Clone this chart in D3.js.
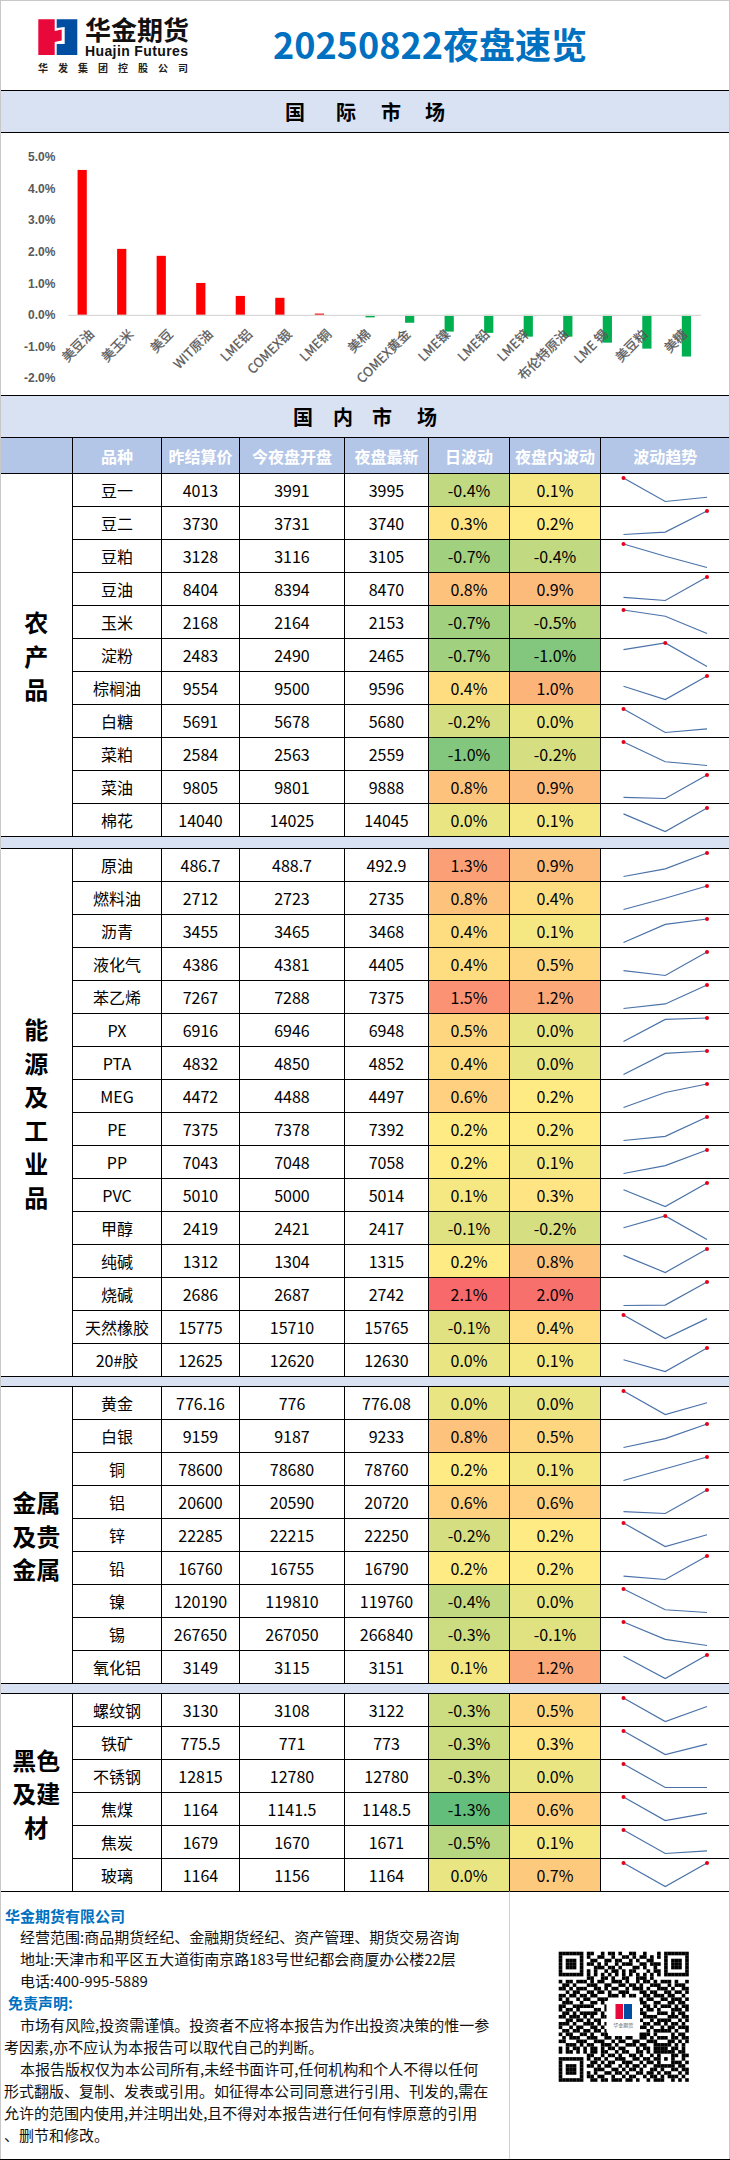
<!DOCTYPE html>
<html>
<head>
<meta charset="utf-8">
<script src="https://cdn.jsdelivr.net/npm/d3@7"></script>
<style>
html, body { margin: 0; padding: 0; background: #fff; }
svg { display: block; }
text { font-family: "Noto Sans CJK SC", "Noto Sans", sans-serif; }
</style>
</head>
<body>
<div id="chart"></div>
<script>
// international market bars
const intlNames = ['美豆油', '美玉米', '美豆', 'WIT原油', 'LME铝', 'COMEX银', 'LME铜', '美棉', 'COMEX黄金', 'LME镍', 'LME铅', 'LME锌', '布伦特原油', 'LME 锡', '美豆粕', '美糖'];
const intlChange = [4.59, 2.09, 1.87, 1.01, 0.60, 0.54, 0.04, -0.08, -0.25, -0.53, -0.57, -0.69, -0.69, -0.88, -1.07, -1.32];
const yTicks = [-2, -1, 0, 1, 2, 3, 4, 5];

// domestic market table
const groupLabels = [['农', '产', '品'], ['能', '源', '及', '工', '业', '品'], ['金属', '及贵', '金属'], ['黑色', '及建', '材']];
const groupSizes = [11, 16, 9, 6];
const names = ['豆一', '豆二', '豆粕', '豆油', '玉米', '淀粉', '棕榈油', '白糖', '菜粕', '菜油', '棉花',
    '原油', '燃料油', '沥青', '液化气', '苯乙烯', 'PX', 'PTA', 'MEG', 'PE', 'PP', 'PVC', '甲醇', '纯碱', '烧碱', '天然橡胶', '20#胶',
    '黄金', '白银', '铜', '铝', '锌', '铅', '镍', '锡', '氧化铝',
    '螺纹钢', '铁矿', '不锈钢', '焦煤', '焦炭', '玻璃'];
const settle = [4013, 3730, 3128, 8404, 2168, 2483, 9554, 5691, 2584, 9805, 14040,
    486.7, 2712, 3455, 4386, 7267, 6916, 4832, 4472, 7375, 7043, 5010, 2419, 1312, 2686, 15775, 12625,
    776.16, 9159, 78600, 20600, 22285, 16760, 120190, 267650, 3149,
    3130, 775.5, 12815, 1164, 1679, 1164];
const nightOpen = [3991, 3731, 3116, 8394, 2164, 2490, 9500, 5678, 2563, 9801, 14025,
    488.7, 2723, 3465, 4381, 7288, 6946, 4850, 4488, 7378, 7048, 5000, 2421, 1304, 2687, 15710, 12620,
    776, 9187, 78680, 20590, 22215, 16755, 119810, 267050, 3115,
    3108, 771, 12780, 1141.5, 1670, 1156];
const nightLast = [3995, 3740, 3105, 8470, 2153, 2465, 9596, 5680, 2559, 9888, 14045,
    492.9, 2735, 3468, 4405, 7375, 6948, 4852, 4497, 7392, 7058, 5014, 2417, 1315, 2742, 15765, 12630,
    776.08, 9233, 78760, 20720, 22250, 16790, 119760, 266840, 3151,
    3122, 773, 12780, 1148.5, 1671, 1164];
const dayChange = [-0.4, 0.3, -0.7, 0.8, -0.7, -0.7, 0.4, -0.2, -1.0, 0.8, 0.0,
    1.3, 0.8, 0.4, 0.4, 1.5, 0.5, 0.4, 0.6, 0.2, 0.2, 0.1, -0.1, 0.2, 2.1, -0.1, 0.0,
    0.0, 0.8, 0.2, 0.6, -0.2, 0.2, -0.4, -0.3, 0.1,
    -0.3, -0.3, -0.3, -1.3, -0.5, 0.0];
const nightChange = [0.1, 0.2, -0.4, 0.9, -0.5, -1.0, 1.0, 0.0, -0.2, 0.9, 0.1,
    0.9, 0.4, 0.1, 0.5, 1.2, 0.0, 0.0, 0.2, 0.2, 0.1, 0.3, -0.2, 0.8, 2.0, 0.4, 0.1,
    0.0, 0.5, 0.1, 0.6, 0.2, 0.2, 0.0, -0.1, 1.2,
    0.5, 0.3, 0.0, 0.6, 0.1, 0.7];
const headers = ['品种', '昨结算价', '今夜盘开盘', '夜盘最新', '日波动', '夜盘内波动', '波动趋势'];

const footerLines = [
    ['华金期货有限公司', 5, 1],
    ['经营范围:商品期货经纪、金融期货经纪、资产管理、期货交易咨询', 20, 0],
    ['地址:天津市和平区五大道街南京路183号世纪都会商厦办公楼22层', 20, 0],
    ['电话:400-995-5889', 20, 0],
    ['免责声明:', 8, 1],
    ['市场有风险,投资需谨慎。投资者不应将本报告为作出投资决策的惟一参', 20, 0],
    ['考因素,亦不应认为本报告可以取代自己的判断。', 4, 0],
    ['本报告版权仅为本公司所有,未经书面许可,任何机构和个人不得以任何', 20, 0],
    ['形式翻版、复制、发表或引用。如征得本公司同意进行引用、刊发的,需在', 4, 0],
    ['允许的范围内使用,并注明出处,且不得对本报告进行任何有悖原意的引用', 4, 0],
    ['、删节和修改。', 4, 0]
];

const qrRows = [
    '1111111011001011010011001000101111111', '1000001010011001001101011010101000001',
    '1011101001100110110010100110001011101', '1011101011010100101110011011101011101',
    '1011101000111011010001101001001011101', '1000001010100101101011000101101000001',
    '1111111010101010101010101010101111111', '0000000011001101001100111010000000000',
    '1011011101011001110100101101011101001', '0110100011100110011011010011100101110',
    '1101011100110101100101110100111010011', '0010110011011010011100011011001101101',
    '1101101101100011101011001101110110010', '1010010110011100000000010110011011101',
    '0111001001101000000000011001100110110', '1100111111000100000000001101011101011',
    '1011010000110100000000010110100011101', '0110101111101000000000011000111010110',
    '1101110101001100000000001111000111011', '0011011010110000000000010010111100101',
    '1110100111010100000000001101101011010', '1001011001101000000000011010010110111',
    '0110110110110100000000000101111101001', '1011001101001100000000011101000010110',
    '0101110011100110110110011010111011011', '1100011100111001011001100111000110101',
    '0011101011001110100111011001111101010', '1010110101101011011000101101111011010',
    '1011010101101100101100110101111110110', '0000000011001011010011010010100011011',
    '1111111010110100111001101101101010010', '1000001001101011001110010110100011101',
    '1011101011010110010101101001111110110', '1011101000111001101011010011010011011',
    '1011101010100110110100110110101100101', '1000001011011001001011001011010111010',
    '1111111001101101110110100101110010101'
];

const width = 730, height = 2160;
const svg = d3.select('#chart').append('svg').attr('width', width).attr('height', height);

const lineColor = '#000';
const bandColor = '#d9e2f3';
const headColor = '#b4c6e7';
const colEdges = [0, 72.5, 161.5, 239.5, 344.5, 428.5, 509.5, 600.5, 730];
const groupTops = [473.5, 848.5, 1386.5, 1693.5];
const rowH = 33;

const hline = (g, y, x1, x2, color) => g.append('line')
    .attr('x1', x1).attr('x2', x2).attr('y1', y).attr('y2', y)
    .attr('stroke', color || lineColor).attr('stroke-width', 1);
const vline = (g, x, y1, y2, color) => g.append('line')
    .attr('x1', x).attr('x2', x).attr('y1', y1).attr('y2', y2)
    .attr('stroke', color || lineColor).attr('stroke-width', 1);

//------------------------------------------------------------------------------
// header, logo
const head = svg.append('g');
head.append('polygon').attr('fill', '#e8083a')
    .attr('points', '38.3,19.3 54.7,19.3 54.7,31 61.7,29.5 61.7,40.5 54.7,42 54.7,55 38.3,55');
head.append('polygon').attr('fill', '#004ea2')
    .attr('points', '56.7,19.3 77.3,19.3 77.3,55 56.7,55 56.7,44 64.7,44 64.7,27 56.7,28');
head.append('text').text('华金期货').attr('x', 85).attr('y', 40)
    .attr('font-size', 26).attr('font-weight', 'bold').attr('fill', '#111');
head.append('text').text('Huajin Futures').attr('x', 85).attr('y', 56)
    .attr('font-size', 14).attr('font-weight', 'bold').attr('fill', '#111')
    .attr('textLength', 103).style('font-family', '"Liberation Sans", sans-serif');
head.append('g').selectAll('text').data('华发集团控股公司'.split('')).join('text')
    .text(d => d)
    .attr('x', (d, i) => 38 + i * 20)
    .attr('y', 72)
    .attr('font-size', 10).attr('font-weight', 'bold').attr('fill', '#222');
head.append('text').text('20250822夜盘速览').attr('x', 273).attr('y', 58.5)
    .attr('font-size', 36).attr('font-weight', 'bold').attr('fill', '#0070c0');

// section bands
const band = (y, h) => svg.append('rect').attr('x', 0).attr('y', y).attr('width', width).attr('height', h).attr('fill', bandColor);
band(90.5, 42);
band(395.5, 42);
band(836.5, 12);
band(1376.5, 10);
band(1683.5, 10);

const bandTitle = (chars, xs, y) => svg.append('text').text(chars)
    .attr('x', xs.join(' ')).attr('y', y).attr('font-size', 20).attr('font-weight', 'bold')
    .attr('fill', '#000').attr('dominant-baseline', 'central');
bandTitle('国际市场', [285, 336, 381, 425], 111);
bandTitle('国内市场', [293, 333, 372, 417], 416);

//------------------------------------------------------------------------------
// bar chart
const x = d3.scaleBand().domain(intlNames).range([68, 700.6]);
const y = d3.scaleLinear().domain([-2, 5]).range([378, 157]);
const side = d3.scaleBand().domain(['up', 'down']).range([9.57, 29.97]).paddingInner(0.176);

const chart = svg.append('g');
chart.selectAll('rect').data(intlChange).join('rect')
    .attr('x', (d, i) => x(intlNames[i]) + side(d >= 0 ? 'up' : 'down'))
    .attr('y', d => y(Math.max(0, d)))
    .attr('width', side.bandwidth())
    .attr('height', d => Math.abs(y(d) - y(0)))
    .attr('fill', d => d >= 0 ? '#ff0000' : '#00b050');

const yAxis = chart.append('g').attr('transform', 'translate(68,0)')
    .call(d3.axisLeft(y).tickValues(yTicks).tickSize(0).tickPadding(12.6).tickFormat(d => d.toFixed(1) + '%'));
yAxis.select('.domain').remove();
yAxis.selectAll('text').attr('font-size', 12).attr('font-weight', 'bold').attr('fill', '#595959')
    .style('font-family', '"Liberation Sans", sans-serif');

const xAxis = chart.append('g').attr('transform', `translate(0,${y(0)})`)
    .call(d3.axisBottom(x).tickSize(0).tickSizeOuter(0));
xAxis.select('.domain').attr('stroke', '#d9d9d9').attr('stroke-width', 1.2);
xAxis.selectAll('text')
    .attr('x', 0).attr('y', 0).attr('dy', '0.35em')
    .attr('text-anchor', 'end')
    .attr('transform', 'translate(4,17) rotate(-45)')
    .attr('font-size', 13).attr('fill', '#595959')
    .attr('stroke', '#595959').attr('stroke-width', 0.25);

//------------------------------------------------------------------------------
// table
const table = svg.append('g');
const cellText = (g, txt, cx, cy, size, color, weight) => g.append('text').text(txt)
    .attr('x', cx).attr('y', cy).attr('text-anchor', 'middle').attr('dominant-baseline', 'central')
    .attr('font-size', size).attr('fill', color || '#000').attr('font-weight', weight || 'normal');

const colMid = i => (colEdges[i] + colEdges[i + 1]) / 2;

table.append('rect').attr('x', 0).attr('y', 437.5).attr('width', width).attr('height', 36).attr('fill', headColor);
headers.forEach((h, i) => cellText(table, h, colMid(i + 1), 455.5, 16, '#fff', 'bold'));

// both change columns share one colour scale
const allChange = dayChange.concat(nightChange);
const heatColor = d3.scaleLinear().domain([d3.min(allChange), d3.median(allChange), d3.max(allChange)])
    .range(['#63be7b', '#ffeb84', '#f8696b']);

const pct = d => d.toFixed(1) + '%';
const fmt = d => String(d);

let offset = 0;
groupSizes.forEach((size, g) => {
    const top = groupTops[g];
    const idx = d3.range(offset, offset + size);
    const rowY = d3.scaleBand().domain(idx).range([top, top + size * rowH]);
    const bottom = top + size * rowH;

    // heat cells go under the grid lines
    idx.forEach(i => {
        table.append('rect').attr('x', colEdges[5]).attr('y', rowY(i)).attr('width', colEdges[6] - colEdges[5]).attr('height', rowH).attr('fill', heatColor(dayChange[i]));
        table.append('rect').attr('x', colEdges[6]).attr('y', rowY(i)).attr('width', colEdges[7] - colEdges[6]).attr('height', rowH).attr('fill', heatColor(nightChange[i]));
    });

    idx.forEach(i => {
        const cy = rowY(i) + rowH / 2;
        cellText(table, names[i], colMid(1), cy, 16);
        cellText(table, fmt(settle[i]), colMid(2), cy, 16);
        cellText(table, fmt(nightOpen[i]), colMid(3), cy, 16);
        cellText(table, fmt(nightLast[i]), colMid(4), cy, 16);
        cellText(table, pct(dayChange[i]), colMid(5), cy, 16);
        cellText(table, pct(nightChange[i]), colMid(6), cy, 16);

        // sparkline: settle, open, latest, red dot on the high
        const series = [settle[i], nightOpen[i], nightLast[i]];
        const sx = d3.scalePoint().domain([0, 1, 2]).range([623.5, 707]);
        const sy = d3.scaleLinear().domain(d3.extent(series)).range([rowY(i) + 28, rowY(i) + 4.5]);
        const spark = table.append('g');
        spark.append('path')
            .attr('d', d3.line().x((d, k) => sx(k)).y(d => sy(d))(series))
            .attr('fill', 'none').attr('stroke', '#4a72a8').attr('stroke-width', 1.2);
        const high = d3.max(series);
        spark.selectAll('circle').data(series.map((v, k) => [v, k]).filter(d => d[0] === high)).join('circle')
            .attr('cx', d => sx(d[1])).attr('cy', d => sy(d[0])).attr('r', 2).attr('fill', '#e5001a');
    });

    // grid
    idx.forEach(i => hline(table, rowY(i), colEdges[1], width));
    hline(table, top, 0, width);
    hline(table, bottom, 0, width);
    colEdges.slice(1, -1).forEach(cx => vline(table, cx, top, bottom));

    // merged group label
    const labels = groupLabels[g];
    const mid = (top + bottom) / 2;
    labels.forEach((t, k) => {
        cellText(table, t, colMid(0), mid + (k - (labels.length - 1) / 2) * 33.5, 24, '#000', 'bold');
    });

    offset += size;
});

// header row grid
colEdges.slice(1, -1).forEach(cx => vline(table, cx, 437.5, 473.5));
hline(table, 437.5, 0, width);
hline(table, 90.5, 0, width);
hline(table, 132.5, 0, width);
hline(table, 395.5, 0, width);

//------------------------------------------------------------------------------
// footer
const footer = svg.append('g');
footer.selectAll('text').data(footerLines).join('text')
    .text(d => d[0])
    .attr('x', d => d[1])
    .attr('y', (d, i) => 1915 + i * 21.9)
    .attr('dominant-baseline', 'central')
    .attr('font-size', 15)
    .attr('font-weight', d => d[2] ? 'bold' : 'normal')
    .attr('fill', d => d[2] ? '#0070c0' : '#111');
vline(footer, 509.5, 1891.5, 2159.5, '#d0d0d0');
hline(footer, 2159.5, 0, width);

// qr code
const qrSize = 130 / 37;
const qr = footer.append('g').attr('transform', 'translate(558.7,1951.7)');
qrRows.forEach((row, r) => {
    row.split('').forEach((c, k) => {
        if (c === '1') qr.append('rect').attr('x', k * qrSize).attr('y', r * qrSize).attr('width', qrSize + 0.1).attr('height', qrSize + 0.1).attr('fill', '#000');
    });
});
const badge = footer.append('g').attr('transform', 'translate(606.5,2000)');
badge.append('rect').attr('width', 33.5).attr('height', 33.5).attr('rx', 3).attr('fill', '#fff');
badge.append('rect').attr('x', 9).attr('y', 4).attr('width', 7.5).attr('height', 15).attr('fill', '#e8083a');
badge.append('rect').attr('x', 17.5).attr('y', 4).attr('width', 8).attr('height', 15).attr('fill', '#004ea2');
badge.append('text').text('华金期货').attr('x', 16.7).attr('y', 27).attr('text-anchor', 'middle').attr('font-size', 5).attr('fill', '#555');

// outer frame
svg.append('rect').attr('x', 0.5).attr('y', 0.5).attr('width', width - 1).attr('height', height - 1)
    .attr('fill', 'none').attr('stroke', '#c8c8c8').attr('stroke-width', 1);
hline(svg, 2159.5, 0, width);
</script>
</body>
</html>
